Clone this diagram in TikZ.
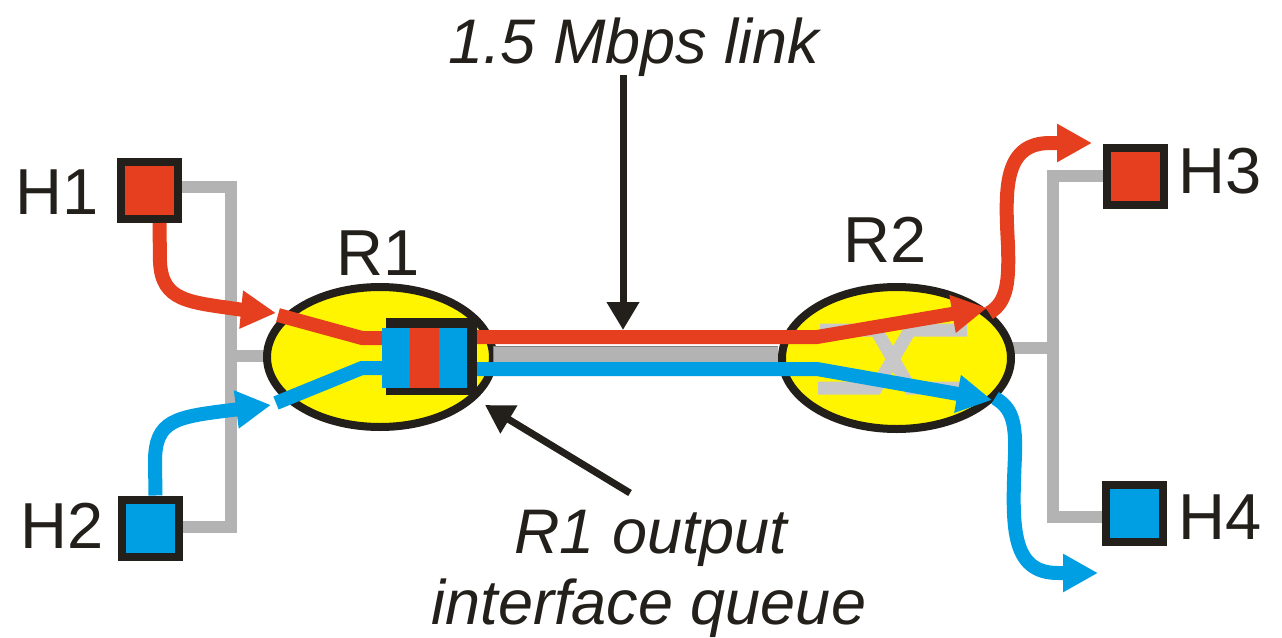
\documentclass[tikz,border=0pt]{standalone}
\usepackage{fontspec}
\setmainfont{Liberation Sans}
\usetikzlibrary{arrows.meta,shapes.geometric}
\definecolor{cred}{HTML}{E53F1F}
\definecolor{cblue}{HTML}{009FE3}
\definecolor{cyellow}{HTML}{FFF500}
\definecolor{cgray}{HTML}{B3B3B3}
\definecolor{clgray}{HTML}{C8C8C8}
\definecolor{cblack}{HTML}{231F1A}
\tikzset{
  hostbox/.style={draw=cblack, line width=8pt, rectangle, minimum size=57pt, inner sep=0pt},
  router/.style={draw=cblack, line width=8pt, ellipse, fill=cyellow, inner sep=0pt},
  bus/.style={draw=cgray, line width=12pt, line join=miter},
  flowred/.style={draw=cred, line width=14pt},
  flowblue/.style={draw=cblue, line width=14pt},
  bigtip/.style={-{Triangle[length=35pt,width=36pt]}},
  pointer/.style={draw=cblack, line width=7pt, -{Triangle[length=28pt,width=31pt]}},
  lbl/.style={font=\fontsize{65}{70}\selectfont, text=cblack, inner sep=0pt, anchor=base},
  ilbl/.style={font=\fontsize{63}{71}\selectfont\itshape, text=cblack, inner sep=0pt, anchor=base},
}
\begin{document}
\begin{tikzpicture}[x=1pt,y=-1pt]
\useasboundingbox[fill=white] (0,0) rectangle (1282,637);
% hosts
\node[hostbox, fill=cred]  (H1) at (149.5,190.5) {};
\node[hostbox, fill=cblue] (H2) at (150.5,528) {};
\node[hostbox, fill=cred]  (H3) at (1135,176.5) {};
\node[hostbox, fill=cblue] (H4) at (1134.5,513) {};
% buses
\coordinate (lbusT) at (231,187);
\coordinate (lbusB) at (231,527);
\coordinate (lbusM) at (231,356);
\coordinate (rbusT) at (1053,176);
\coordinate (rbusB) at (1053,517);
\coordinate (rbusM) at (1053,348);
\draw[bus] (H1.east |- lbusT) -- (lbusT) -- (lbusB) -- (H2.east |- lbusB);
\draw[bus] (lbusM) -- (270,356);
\draw[bus] (H3.west |- rbusT) -- (rbusT) -- (rbusB) -- (H4.west |- rbusB);
\draw[bus] (rbusM) -- (1010,348);
% routers
\node[router, minimum width=226pt, minimum height=140pt] (R1) at (380,357) {};
\node[router, minimum width=229pt, minimum height=142pt] (R2) at (896.5,358) {};
% switch symbol in R2
\draw[clgray, line width=13pt] (820,330) -- (876,330) -- (910,388) -- (960,388);
\draw[clgray, line width=13pt] (818,388) -- (876,388) -- (910,330) -- (967,330);
% link
\coordinate (linkA) at (493,354);
\coordinate (linkB) at (R2.west |- linkA);
\draw[draw=gray, line width=17pt] (linkA) -- (linkB);
\draw[draw=cgray, line width=15pt] ([xshift=1pt]linkA) -- (linkB);
% queue
\node[fill=cblack, minimum width=91pt, minimum height=77pt, inner sep=0pt] (Q) at (431.5,356.5) {};
\node[fill=cblue, minimum width=28pt, minimum height=60pt, inner sep=0pt] (q1) at (396,358) {};
\node[fill=cred,  minimum width=29pt, minimum height=60pt, inner sep=0pt] (q2) at (424.5,358) {};
\node[fill=cblue, minimum width=28pt, minimum height=60pt, inner sep=0pt] (q3) at (453,358) {};
% flows into R1
\draw[flowred, bigtip] ([xshift=10pt]H1.south) -- (160,262) .. controls (162,302) and (190,302) .. (240,309.5) -- (276,313);
\draw[flowblue, bigtip] ([xshift=5pt]H2.north) -- (155,462) .. controls (155,420) and (175,417) .. (232,410) -- (271,405);
\draw[flowred] (278,315) -- (362,338) -- (q1.west |- 0,338);
\draw[flowblue] (276,403) -- (362,368) -- (q1.west |- 0,368);
% flows across link
\draw[flowred, bigtip] (Q.east |- 0,337) -- (817,337) -- (987,308);
\draw[flowblue, bigtip] (Q.east |- 0,369) -- (817,369) -- (992,400);
% flows out of R2
\draw[flowred, bigtip] (989,313) .. controls (1008,302) and (1009,280) .. (1008,245) .. controls (1005,190) and (1003,143) .. (1050,143) -- (1092,143);
\draw[flowblue, bigtip] (995,398) .. controls (1012,408) and (1016,422) .. (1015,455) .. controls (1012,525) and (1010,573) .. (1058,573) -- (1098,573);
% labels
\node[lbl] (tH1) at (57,214) {H1};
\node[lbl] (tH2) at (62,548) {H2};
\node[lbl] (tH3) at (1220,193) {H3};
\node[lbl] (tH4) at (1220,539) {H4};
\node[lbl] (tR1) at (378,275) {R1};
\node[lbl] (tR2) at (885,262) {R2};
\node[ilbl] (tlink) at (634,63) {1.5 Mbps link};
\node[ilbl] (tq1) at (651,553) {R1 output};
\node[ilbl] (tq2) at (649,624) {interface queue};
% pointers
\coordinate (linkpt) at (623,330);
\draw[pointer] (623,75) -- (linkpt);
\coordinate (qpt) at (485,405);
\draw[pointer] (630,493) -- (qpt);
\end{tikzpicture}
\end{document}
